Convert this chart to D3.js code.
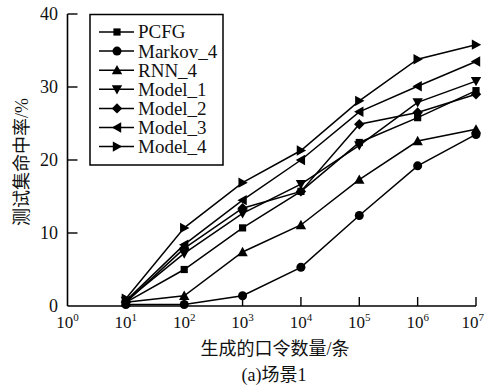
<!DOCTYPE html>
<html><head><meta charset="utf-8">
<script src="https://cdn.jsdelivr.net/npm/d3@7"></script>
<style>body{margin:0;background:#fff}svg{display:block}</style>
</head><body>
<script>
const xExps = [1,2,3,4,5,6,7];
const seriesNames = ["PCFG","Markov_4","RNN_4","Model_1","Model_2","Model_3","Model_4"];
const markerTypes = ["square","circle","up","down","diamond","left","right"];
const pcfg   = [0.5, 5.0, 10.7, 15.7, 22.4, 25.8, 29.5];
const markov = [0.2, 0.2, 1.4, 5.3, 12.4, 19.2, 23.5];
const rnn    = [0.5, 1.4, 7.4, 11.1, 17.3, 22.6, 24.2];
const model1 = [0.7, 7.2, 12.7, 16.7, 22.0, 27.9, 30.8];
const model2 = [0.5, 7.9, 13.4, 15.7, 24.9, 26.5, 29.0];
const model3 = [0.7, 8.4, 14.5, 20.0, 26.6, 30.1, 33.5];
const model4 = [1.0, 10.7, 16.9, 21.3, 28.1, 33.8, 35.8];
const allValues = [pcfg, markov, rnn, model1, model2, model3, model4];
const yTicks = [0,10,20,30,40];
const xTickExps = [0,1,2,3,4,5,6,7];
const yLabel = "测试集命中率/%";
const xLabel = "生成的口令数量/条";
const caption = "(a)场景1";

const W = 485, H = 390;
const svg = d3.select("body").append("svg").attr("width", W).attr("height", H);
const x = d3.scaleLog().domain([1, 1e7]).range([67.5, 476]);
const y = d3.scaleLinear().domain([0, 40]).range([306, 14]);
const serif = "'Liberation Serif','Times New Roman',serif";
const mixed = "'Liberation Serif','Noto Sans CJK SC','Noto Sans CJK JP',serif";

function markerPath(t) {
  const s = 5.2;
  switch (t) {
    case "square": return "M-3.6,-3.6H3.6V3.6H-3.6Z";
    case "circle": return d3.symbol(d3.symbolCircle, 64)();
    case "up": return `M0,${-s}L${s},${s*0.8}L${-s},${s*0.8}Z`;
    case "down": return `M0,${s}L${s},${-s*0.8}L${-s},${-s*0.8}Z`;
    case "diamond": return `M0,${-s}L${s},0L0,${s}L${-s},0Z`;
    case "left": return `M${-s},0L${s*0.8},${-s}L${s*0.8},${s}Z`;
    case "right": return `M${s},0L${-s*0.8},${-s}L${-s*0.8},${s}Z`;
  }
}

// axes
const g = svg.append("g");
g.append("line").attr("x1", x(1)).attr("x2", x(1)).attr("y1", y(40)).attr("y2", y(0))
  .attr("stroke", "#000").attr("stroke-width", 1.6);
g.append("line").attr("x1", x(1)).attr("x2", x(1e7)).attr("y1", y(0)).attr("y2", y(0))
  .attr("stroke", "#000").attr("stroke-width", 1.6);
yTicks.forEach(v => {
  if (v > 0) g.append("line").attr("x1", x(1)).attr("x2", x(1) + 10).attr("y1", y(v)).attr("y2", y(v))
    .attr("stroke", "#000").attr("stroke-width", 1.4);
  g.append("text").attr("x", 58).attr("y", y(v)).attr("dy", "0.36em").attr("text-anchor", "end")
    .attr("font-family", serif).attr("font-size", 18).attr("fill", "#111").text(v);
});
xTickExps.forEach(e => {
  const xv = x(Math.pow(10, e));
  if (e > 0) g.append("line").attr("x1", xv).attr("x2", xv).attr("y1", y(0)).attr("y2", y(0) - 9)
    .attr("stroke", "#000").attr("stroke-width", 1.4);
  const last = e === 7;
  const t = g.append("text").attr("x", last ? 484 : xv).attr("y", 328)
    .attr("text-anchor", last ? "end" : "middle")
    .attr("font-family", serif).attr("font-size", 17).attr("fill", "#111");
  t.append("tspan").text("10");
  t.append("tspan").attr("font-size", 11).attr("dy", -7).text(e);
});

// series
const line = d3.line().x((d, i) => x(Math.pow(10, xExps[i]))).y(d => y(d));
allValues.forEach((vals, k) => {
  svg.append("path").attr("d", line(vals)).attr("fill", "none").attr("stroke", "#000").attr("stroke-width", 1.5);
});
allValues.forEach((vals, k) => {
  svg.selectAll(null).data(vals).enter().append("path")
    .attr("d", markerPath(markerTypes[k]))
    .attr("transform", (d, i) => `translate(${x(Math.pow(10, xExps[i]))},${y(d)})`)
    .attr("fill", "#000");
});

// legend
const lg = svg.append("g");
lg.append("rect").attr("x", 90).attr("y", 14.5).attr("width", 133).attr("height", 150.5)
  .attr("fill", "#fff").attr("stroke", "#000").attr("stroke-width", 1.5);
seriesNames.forEach((n, k) => {
  const yy = 32 + k * 19.1;
  lg.append("line").attr("x1", 99).attr("x2", 134).attr("y1", yy).attr("y2", yy)
    .attr("stroke", "#000").attr("stroke-width", 1.5);
  lg.append("path").attr("d", markerPath(markerTypes[k])).attr("transform", `translate(117,${yy})`).attr("fill", "#000");
  lg.append("text").attr("x", 138).attr("y", yy).attr("dy", "0.34em")
    .attr("font-family", serif).attr("font-size", 19).attr("fill", "#111").text(n);
});

// labels
svg.append("text").attr("transform", "translate(22,162) rotate(-90)").attr("text-anchor", "middle")
  .attr("dy", "0.35em").attr("font-family", mixed).attr("font-size", 18).attr("fill", "#111").text(yLabel);
svg.append("text").attr("x", 275).attr("y", 349).attr("dy", "0.35em").attr("text-anchor", "middle")
  .attr("font-family", mixed).attr("font-size", 18).attr("fill", "#111").text(xLabel);
svg.append("text").attr("x", 274).attr("y", 375).attr("dy", "0.35em").attr("text-anchor", "middle")
  .attr("font-family", mixed).attr("font-size", 18).attr("fill", "#111").text(caption);
</script>
</body></html>
